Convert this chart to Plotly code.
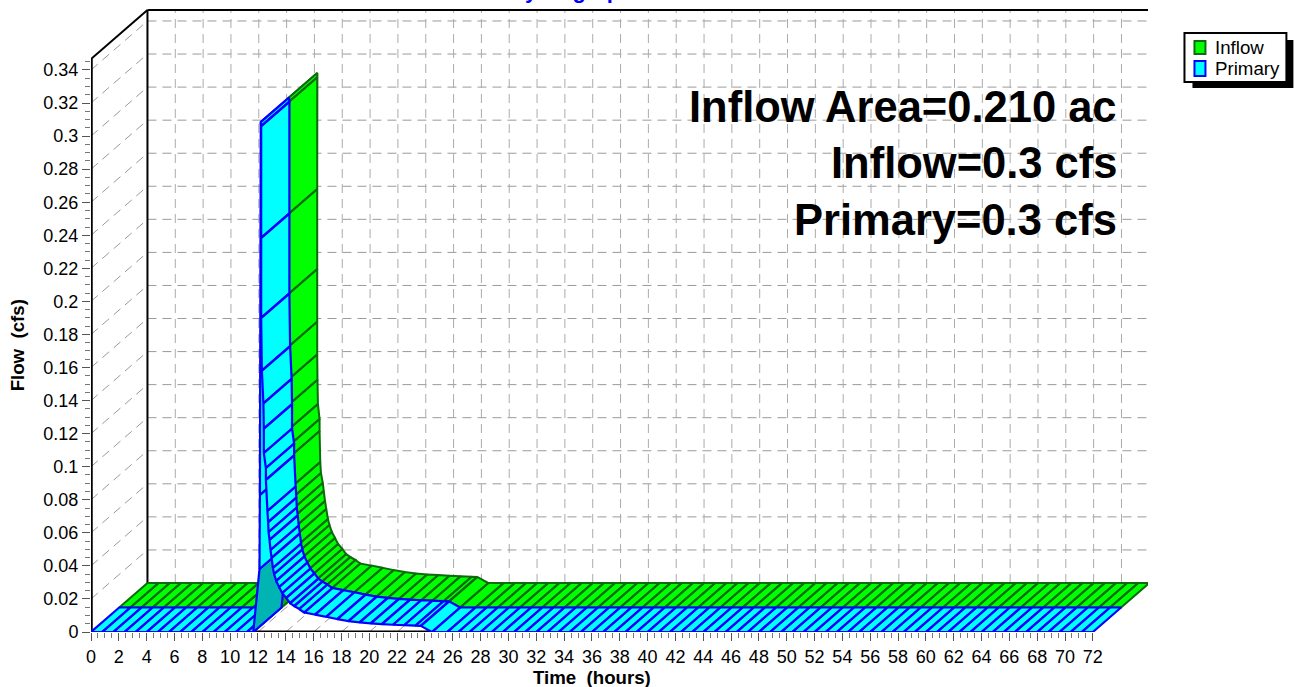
import plotly.graph_objects as go

# ---------- data ----------
primary_hours = [0.0, 0.8, 1.6, 2.4, 3.2, 4.0, 4.8, 5.6, 6.4, 7.2, 8.0, 8.8, 9.6, 10.4, 11.2, 11.66,
                 12.11, 12.14, 12.2,
                 12.23, 12.23, 12.23, 12.28, 12.39, 12.42, 12.42, 12.57, 12.57, 12.68, 12.73, 12.76, 12.83,
                 12.90, 12.98, 13.07, 13.16, 13.31, 13.52, 13.74, 14.03, 14.31, 14.6, 14.96, 15.32,
                 16.1, 16.9, 17.7, 18.5, 19.3, 20.1, 20.9, 21.7, 22.5, 23.3, 23.7, 24.5,
                 25.6, 26.4, 27.2, 28.0, 28.8, 29.6, 30.4, 31.2, 32.0, 32.8, 33.6, 34.4, 35.2, 36.0,
                 36.8, 37.6, 38.4, 39.2, 40.0, 40.8, 41.6, 42.4, 43.2, 44.0, 44.8, 45.6, 46.4, 47.2, 48.0,
                 48.8, 49.6, 50.4, 51.2, 52.0, 52.8, 53.6, 54.4, 55.2, 56.0, 56.8, 57.6, 58.4, 59.2, 60.0,
                 60.8, 61.6, 62.4, 63.2, 64.0, 64.8, 65.6, 66.4, 67.2, 68.0, 68.8, 69.6, 70.4, 71.2, 72.0]
primary_flow = [0, 0, 0, 0, 0, 0, 0, 0, 0, 0, 0, 0, 0, 0, 0, 0,
                0.0381, 0.0829, 0.3085,
                0.306, 0.2384, 0.19, 0.1581, 0.1383, 0.123, 0.1083, 0.0992, 0.092, 0.0732, 0.0665, 0.0605, 0.0557,
                0.0496, 0.0448, 0.0387, 0.0351, 0.0309, 0.0272, 0.0236, 0.0206, 0.0175, 0.0157, 0.0139, 0.0118,
                0.0105, 0.0092, 0.0078, 0.0066, 0.0058, 0.0052, 0.0048, 0.0044, 0.0041, 0.0038, 0.0037, 0,
                0, 0, 0, 0, 0, 0, 0, 0, 0, 0, 0, 0, 0, 0,
                0, 0, 0, 0, 0, 0, 0, 0, 0, 0, 0, 0, 0, 0, 0,
                0, 0, 0, 0, 0, 0, 0, 0, 0, 0, 0, 0, 0, 0, 0,
                0, 0, 0, 0, 0, 0, 0, 0, 0, 0, 0, 0, 0, 0, 0]
inflow_hours = [0.0, 0.8, 1.6, 2.4, 3.2, 4.0, 4.8, 5.6, 6.4, 7.2, 8.0, 8.8, 9.6, 10.4, 11.2, 11.66,
                12.11, 12.14, 12.2,
                12.2, 12.2, 12.2, 12.2, 12.2, 12.22, 12.25, 12.37, 12.37, 12.42, 12.47, 12.6, 12.67,
                12.76, 12.85, 12.97, 13.08, 13.25, 13.48, 13.7, 14.0, 14.28, 14.58, 14.95, 15.3,
                16.1, 16.9, 17.7, 18.5, 19.3, 20.1, 20.9, 21.7, 22.5, 23.3, 23.7, 24.5,
                25.6, 26.4, 27.2, 28.0, 28.8, 29.6, 30.4, 31.2, 32.0, 32.8, 33.6, 34.4, 35.2, 36.0,
                36.8, 37.6, 38.4, 39.2, 40.0, 40.8, 41.6, 42.4, 43.2, 44.0, 44.8, 45.6, 46.4, 47.2, 48.0,
                48.8, 49.6, 50.4, 51.2, 52.0, 52.8, 53.6, 54.4, 55.2, 56.0, 56.8, 57.6, 58.4, 59.2, 60.0,
                60.8, 61.6, 62.4, 63.2, 64.0, 64.8, 65.6, 66.4, 67.2, 68.0, 68.8, 69.6, 70.4, 71.2, 72.0]
inflow_flow = primary_flow[:]

time_ticks = [0, 2, 4, 6, 8, 10, 12, 14, 16, 18, 20, 22, 24, 26, 28, 30, 32, 34, 36,
              38, 40, 42, 44, 46, 48, 50, 52, 54, 56, 58, 60, 62, 64, 66, 68, 70, 72]
flow_ticks = [0, 0.02, 0.04, 0.06, 0.08, 0.1, 0.12, 0.14, 0.16, 0.18, 0.2, 0.22, 0.24,
              0.26, 0.28, 0.3, 0.32, 0.34]
flow_labels = ["0", "0.02", "0.04", "0.06", "0.08", "0.1", "0.12", "0.14", "0.16", "0.18",
               "0.2", "0.22", "0.24", "0.26", "0.28", "0.3", "0.32", "0.34"]
notes = ["Inflow Area=0.210 ac", "Inflow=0.3 cfs", "Primary=0.3 cfs"]
series_names = ["Inflow", "Primary"]

# ---------- page geometry ----------
W, H = 1294, 687
LEFT, RIGHT, TOP, BOTTOM = 90.7, 1148.5, 9.0, 632.0
PX_H = 13.925            # pixels per hour
PX_Q = 1653.0            # pixels per cfs
DT = 56.5 / PX_H         # depth offset of the back wall, in hours
DQ = 49.0 / PX_Q         # depth offset of the back wall, in cfs
X_MAX = (RIGHT - LEFT) / PX_H
Y_MAX = (BOTTOM - TOP) / PX_Q
AXIS_TOP = 0.3466
FONT = "Liberation Sans"


def proj(t, q, d):
    return t + d * DT, q + d * DQ


def px(x):
    return (x - LEFT) / (RIGHT - LEFT)


def py(y):
    return (BOTTOM - y) / (BOTTOM - TOP)


def quads(ts, qs, d0, d1):
    xs, ys = [], []
    for i in range(len(ts) - 1):
        corners = [(ts[i], qs[i], d0), (ts[i + 1], qs[i + 1], d0),
                   (ts[i + 1], qs[i + 1], d1), (ts[i], qs[i], d1), (ts[i], qs[i], d0)]
        for c in corners:
            a, b = proj(*c)
            xs.append(a)
            ys.append(b)
        xs.append(None)
        ys.append(None)
    return xs, ys


fig = go.Figure()


def line(xs, ys, color, width, dash=None):
    fig.add_trace(go.Scatter(x=xs, y=ys, mode="lines", showlegend=False, hoverinfo="skip",
                             line=dict(color=color, width=width, dash=dash)))


def ribbon(ts, qs, d0, d1, fill, edge, width):
    xs, ys = quads(ts, qs, d0, d1)
    fig.add_trace(go.Scatter(x=xs, y=ys, mode="lines", fill="toself", fillcolor=fill,
                             showlegend=False, hoverinfo="skip",
                             line=dict(color=edge, width=width, shape="linear")))


# ---------- walls and floor grid ----------
GRID = "#9a9a9a"
DASH = "9px,6px"
gx, gy = [], []
for q in flow_ticks:
    a, b = proj(0, q, 1)
    c, d = proj(72, q, 1)
    gx += [a, c, None]
    gy += [b, d, None]
line(gx, gy, GRID, 1, DASH)
gx, gy = [], []
for t in time_ticks[1:-1]:
    a, b = proj(t, 0, 1)
    gx += [a, a, None]
    gy += [b, Y_MAX, None]
line(gx, gy, "#ababab", 1, DASH)
gx, gy = [], []
for q in flow_ticks[1:]:
    a, b = proj(0, q, 0)
    c, d = proj(0, q, 1)
    gx += [a, c, None]
    gy += [b, d, None]
line(gx, gy, GRID, 1, DASH)
gx, gy = [], []
for t in time_ticks[1:-1]:
    a, b = proj(t, 0, 0)
    c, d = proj(t, 0, 1)
    gx += [a, c, None]
    gy += [b, d, None]
line(gx, gy, GRID, 1, DASH)

a, b = proj(0, AXIS_TOP, 1)
line([a, a], [proj(0, 0, 1)[1], b], "black", 2)
line([a, proj(72, AXIS_TOP, 1)[0]], [b, b], "black", 2)
line([0, a], [AXIS_TOP, b], "black", 2)
c, d = proj(72, 0, 1)
line([c, c], [d, b], "#444444", 1.5)
line([0, 0], [0, AXIS_TOP], "black", 3.5)
line([0, 72], [0, 0], "black", 3)


# ---------- ribbons, back to front ----------
def draw_series(ts, qs, d0, d1, fill, edge, width, shade):
    first = next(i for i, v in enumerate(qs) if v > 0)
    peak = qs.index(max(qs))
    ribbon(ts[:first], qs[:first], d0, d1, fill, edge, width)
    ribbon(ts[first - 1:first + 1], qs[first - 1:first + 1], d0, d1, shade, edge, width)
    ribbon(ts[first:peak + 1], qs[first:peak + 1], d0, d1, fill, edge, width)
    ribbon(ts[peak:], qs[peak:], d0, d1, fill, edge, width)


draw_series(inflow_hours, inflow_flow, 0.5, 1.0, "#00ff00", "#0c6b0c", 2, "#00b400")
draw_series(primary_hours, primary_flow, 0.0, 0.5, "#00ffff", "#0000ff", 2.2, "#00b4b4")

# ---------- text ----------
annotations = [
    dict(text="Hydrograph", x=px(572), y=py(-9), xref="paper", yref="paper", showarrow=False,
         xanchor="center", yanchor="middle", font=dict(family=FONT, size=22, color="#0000ff", weight="bold"),
         ),
    dict(text="Time  (hours)", x=px(592), y=py(677), xref="paper", yref="paper", showarrow=False,
         xanchor="center", yanchor="middle", font=dict(family=FONT, size=18.67, color="black", weight="bold")),
    dict(text="Flow  (cfs)", x=px(17), y=py(345), xref="paper", yref="paper", showarrow=False,
         textangle=-90, xanchor="center", yanchor="middle",
         font=dict(family=FONT, size=18.67, color="black", weight="bold")),
]
for text, yc in zip(notes, [107, 163, 220]):
    annotations.append(dict(text=text, x=px(1119), y=py(yc), xref="paper", yref="paper", showarrow=False,
                            xanchor="right", yanchor="middle", align="right",
                            font=dict(family=FONT, size=43.5, color="black", weight="bold")))
for name, yc in zip(series_names, [48, 68.5]):
    annotations.append(dict(text=name, x=px(1215.5), y=py(yc), xref="paper", yref="paper", showarrow=False,
                            xanchor="left", yanchor="middle", xshift=-2,
                            font=dict(family=FONT, size=18.7, color="black")))


def rect(x0, y0, x1, y1, fill, edge, width):
    return dict(type="rect", xref="paper", yref="paper", x0=px(x0), x1=px(x1), y0=py(y1), y1=py(y0),
                fillcolor=fill, line=dict(color=edge, width=width), layer="above")


shapes = [
    rect(1193, 40, 1294, 88, "black", "black", 0),
    rect(1185, 33, 1287, 82, "white", "black", 2),
    rect(1195, 41, 1206, 54, "#00ff00", "#0c6b0c", 2),
    rect(1195, 61, 1206, 76, "#00ffff", "#0000ff", 2),
]

fig.update_layout(
    width=W, height=H,
    margin=dict(l=LEFT, r=W - RIGHT, t=TOP, b=H - BOTTOM, pad=0, autoexpand=False),
    paper_bgcolor="white", plot_bgcolor="white",
    showlegend=False, annotations=annotations, shapes=shapes,
    font=dict(family=FONT, color="black"),
    xaxis=dict(range=[0, X_MAX], showgrid=False, zeroline=False, showline=False,
               tickmode="array", tickvals=time_ticks, ticktext=[str(t) for t in time_ticks],
               ticks="outside", ticklen=8, tickwidth=1.2, tickcolor="#555555",
               tickfont=dict(family=FONT, size=18, color="black"), tickangle=0,
               minor=dict(tickmode="array", tickvals=[v / 2 for v in range(0, 145) if v % 4],
                          ticks="outside", ticklen=5, tickwidth=1, tickcolor="#777777")),
    yaxis=dict(range=[0, Y_MAX], showgrid=False, zeroline=False, showline=False,
               tickmode="array", tickvals=flow_ticks, ticktext=flow_labels,
               ticks="outside", ticklen=8, tickwidth=1.2, tickcolor="#555555",
               tickfont=dict(family=FONT, size=18, color="black"),
               minor=dict(tickmode="array", tickvals=[v / 200 for v in range(0, 70) if v % 4],
                          ticks="outside", ticklen=5, tickwidth=1, tickcolor="#777777")),
)

fig.write_html("out.html", config=dict(displayModeBar=False, responsive=False),
               post_script="document.body.style.margin='0';document.documentElement.style.overflow='hidden';")
